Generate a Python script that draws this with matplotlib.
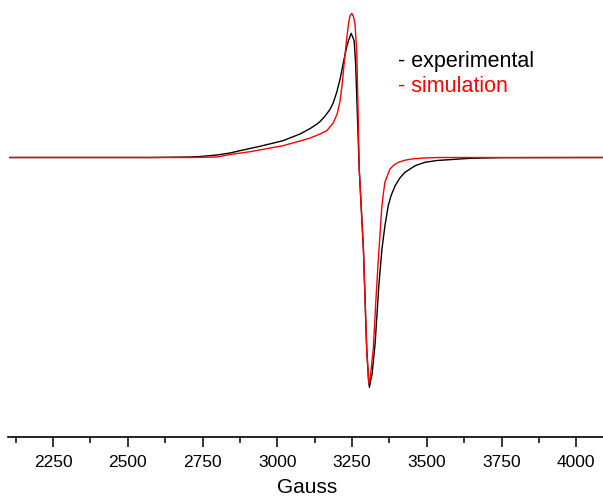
import matplotlib.pyplot as plt
from matplotlib.ticker import MultipleLocator
import numpy as np

plt.rcParams['font.family'] = ['Liberation Sans', 'DejaVu Sans']

# EPR spectrum, field in Gauss, intensity in arbitrary units
field_exp = [2106, 2574, 2708, 2742, 2798, 2842, 2875, 2942, 3019, 3076,
             3110, 3133, 3143, 3160, 3176, 3187, 3199, 3210, 3222, 3232,
             3238, 3247, 3257, 3262, 3266, 3274, 3288, 3299, 3305, 3308,
             3312, 3317, 3327, 3340, 3350, 3360, 3371, 3380, 3394, 3410,
             3427, 3461, 3494, 3534, 3645, 3745, 4090]
signal_exp = [0, 0, 0.005, 0.01, 0.025, 0.045, 0.068, 0.112, 0.168, 0.235,
              0.29, 0.335, 0.36, 0.415, 0.48, 0.545, 0.655, 0.785, 0.965, 1.105,
              1.168, 1.242, 1.168, 0.935, 0.585, -0.115, -0.915, -1.915, -2.215, -2.298,
              -2.235, -2.165, -1.865, -1.265, -0.915, -0.682, -0.482, -0.385, -0.282, -0.205,
              -0.148, -0.082, -0.048, -0.03, -0.008, -0.002, 0]

field_sim = [2106, 2708, 2798, 2842, 2909, 3019, 3076, 3110, 3143, 3166,
             3187, 3200, 3210, 3217, 3225, 3232, 3238, 3243, 3249, 3254,
             3260, 3266, 3270, 3274, 3288, 3299, 3306, 3311, 3321, 3330,
             3338, 3344, 3349, 3354, 3360, 3369, 3377, 3390, 3405, 3427,
             3450, 3488, 3544, 4090]
signal_sim = [0, 0, 0.005, 0.03, 0.058, 0.118, 0.165, 0.195, 0.235, 0.27,
              0.345, 0.435, 0.565, 0.735, 0.985, 1.185, 1.335, 1.415, 1.442, 1.415,
              1.335, 1.035, 0.485, -0.115, -0.915, -1.915, -2.265, -2.195, -1.915, -1.415,
              -1.015, -0.745, -0.515, -0.375, -0.245, -0.175, -0.115, -0.075, -0.048, -0.027,
              -0.015, -0.005, 0, 0]

fig = plt.figure(figsize=(6.03, 5.02), dpi=100)
ax = fig.add_axes([8.2 / 603, 64 / 502, 598 / 603, 438 / 502])

ax.plot(field_exp, signal_exp, color='black', lw=1.0)
ax.plot(field_sim, signal_sim, color='red', lw=1.0)

ax.set_xlim(2100, 4100)
ax.set_ylim(-2.795, 1.585)

for s in ['left', 'right', 'top']:
    ax.spines[s].set_visible(False)
ax.spines['bottom'].set_linewidth(1.2)
ax.set_yticks([])

ax.xaxis.set_major_locator(MultipleLocator(250))
ax.xaxis.set_minor_locator(MultipleLocator(125))
ax.tick_params(axis='x', which='major', direction='out', length=7, width=1.1,
               labelsize=12.5, pad=5)
ax.tick_params(axis='x', which='minor', direction='out', length=4, width=1.1)
ax.set_xlabel('Gauss', fontsize=15, labelpad=6)

fig.text(398 / 603, 1 - 61.7 / 502, '- experimental', color='black',
         fontsize=15.5, va='center', ha='left')
fig.text(398 / 603, 1 - 86.7 / 502, '- simulation', color='red',
         fontsize=15.5, va='center', ha='left')

fig.savefig('out.png', dpi=100)
